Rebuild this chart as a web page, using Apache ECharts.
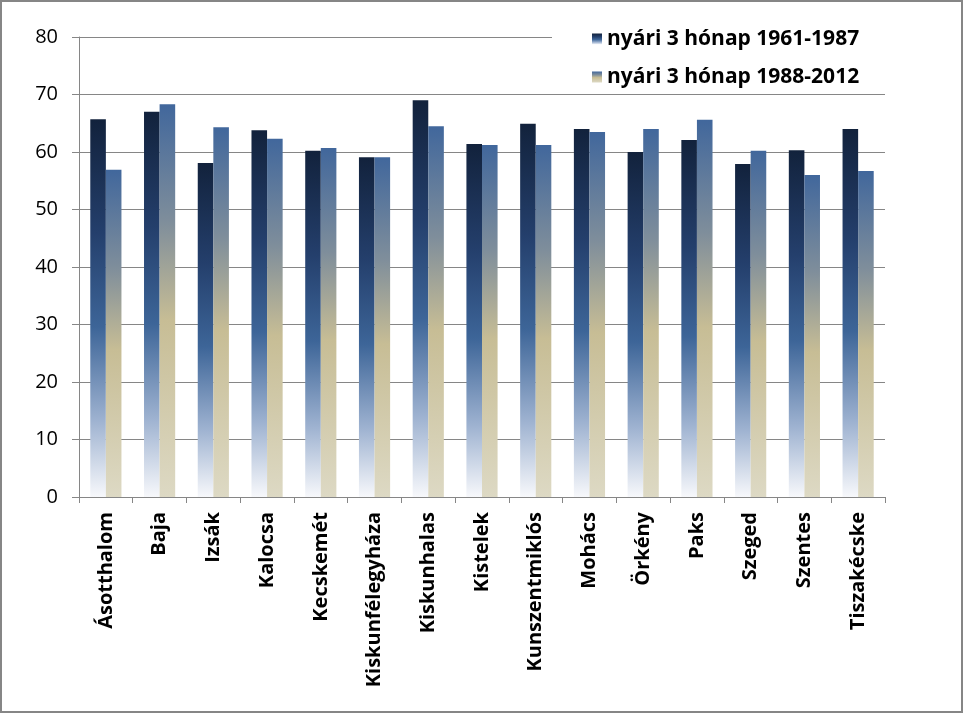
<!DOCTYPE html>
<html>
<head>
<meta charset="utf-8">
<script src="https://cdn.jsdelivr.net/npm/echarts@6/dist/echarts.min.js"></script>
<style>html,body{margin:0;padding:0;background:#fff;}#c{width:966px;height:716px;}</style>
</head>
<body>
<div id="c"></div>
<script>
const categories = ['Ásotthalom','Baja','Izsák','Kalocsa','Kecskemét','Kiskunfélegyháza','Kiskunhalas','Kistelek','Kunszentmiklós','Mohács','Örkény','Paks','Szeged','Szentes','Tiszakécske'];
const series1Name = 'nyári 3 hónap 1961-1987';
const series2Name = 'nyári 3 hónap 1988-2012';
const series1 = [65.7, 67.0, 58.1, 63.8, 60.2, 59.1, 69.0, 61.4, 64.9, 64.0, 60.0, 62.1, 57.9, 60.3, 64.0];
const series2 = [56.9, 68.3, 64.3, 62.3, 60.7, 59.1, 64.5, 61.2, 61.2, 63.5, 64.0, 65.6, 60.2, 56.0, 56.7];
const yTicks = [0, 10, 20, 30, 40, 50, 60, 70, 80];

const FONT = 'Open Sans';
const grad1 = new echarts.graphic.LinearGradient(0,0,0,1,[
  {offset:0,color:'#12223c'},{offset:0.3,color:'#243f6c'},{offset:0.55,color:'#3d6598'},{offset:0.8,color:'#9fb3d1'},{offset:1,color:'#f7f8fb'}]);
const grad2 = new echarts.graphic.LinearGradient(0,0,0,1,[
  {offset:0,color:'#41679c'},{offset:0.3,color:'#7f8e9b'},{offset:0.55,color:'#c7bd95'},{offset:1,color:'#ddd9c4'}]);

const chart = echarts.init(document.getElementById('c'), null, {renderer:'canvas'});
chart.setOption({
  animation:false,
  backgroundColor:'#fff',
  graphic:[{type:'rect',shape:{x:1,y:1,width:961,height:711},style:{fill:'none',stroke:'#868686',lineWidth:2},z:-1}],
  grid:{left:79,right:81,top:37,bottom:219},
  legend:{
    orient:'vertical', left:552, top:22, padding:[5,40,5,40], itemGap:14,
    backgroundColor:'#fff', itemWidth:10, itemHeight:11, icon:'rect',
    textStyle:{fontFamily:FONT,fontWeight:'bold',fontSize:21,color:'#000',lineHeight:24},
    data:[{name:series1Name,itemStyle:{color:grad1}},{name:series2Name,itemStyle:{color:grad2}}],
    z:10
  },
  xAxis:{
    type:'category', data:categories,
    axisLine:{lineStyle:{color:'#868686'}},
    axisTick:{show:true,length:6,lineStyle:{color:'#868686'}},
    axisLabel:{rotate:90,fontFamily:FONT,fontWeight:'bold',fontSize:20,color:'#000',margin:15}
  },
  yAxis:{
    type:'value', min:yTicks[0], max:yTicks[yTicks.length-1], interval:10,
    axisLine:{show:true,lineStyle:{color:'#868686'}},
    axisTick:{show:true,length:7,lineStyle:{color:'#868686'}},
    splitLine:{lineStyle:{color:'#868686'}},
    axisLabel:{fontFamily:FONT,fontSize:20,color:'#000',margin:21}
  },
  series:[
    {name:series1Name,type:'bar',data:series1,barGap:'0%',barCategoryGap:'42%',itemStyle:{color:grad1}},
    {name:series2Name,type:'bar',data:series2,itemStyle:{color:grad2}}
  ]
});
</script>
</body>
</html>
